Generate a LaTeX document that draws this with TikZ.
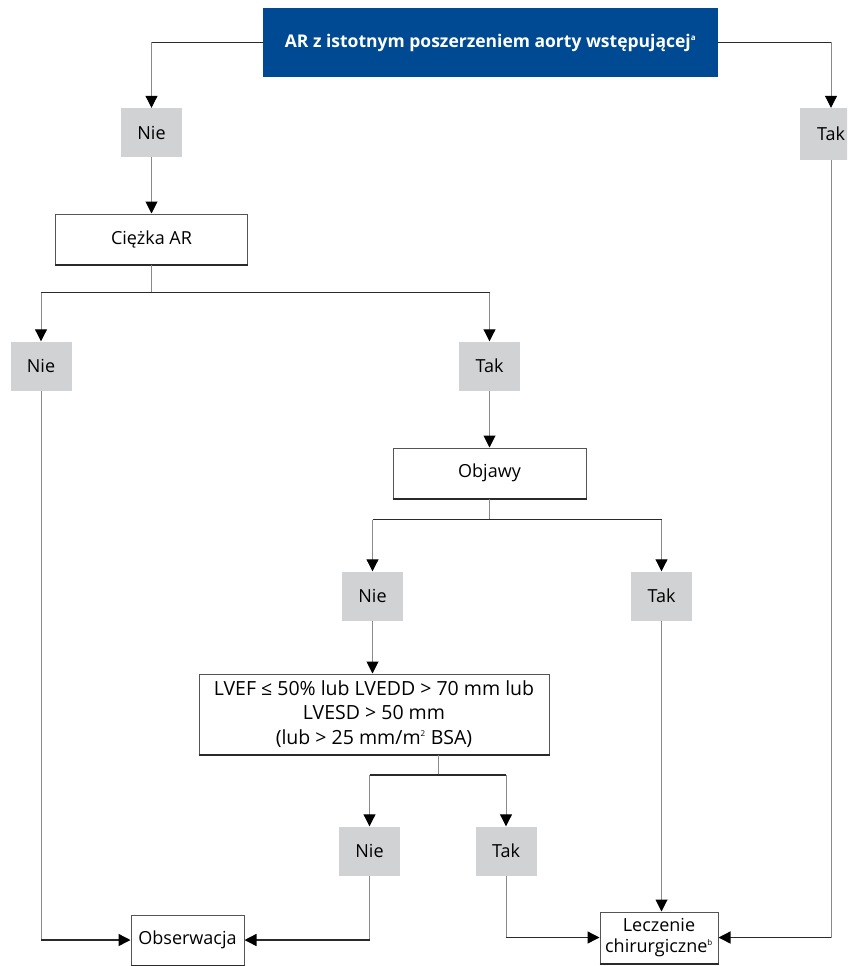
\documentclass[tikz,border=0pt]{standalone}
\usepackage{fontspec}
\setmainfont{Open Sans}
\usetikzlibrary{arrows.meta,calc}
\definecolor{topblue}{HTML}{004A93}
\definecolor{boxgray}{HTML}{D1D2D4}
\definecolor{vlinecol}{HTML}{8A8A8A}
\definecolor{hlinecol}{HTML}{2A2A2A}
\newcommand{\supmark}[1]{\textsuperscript{\fontsize{8}{8}\selectfont #1}}
\tikzset{
  tri/.tip={Triangle[width=12pt,length=12pt]},
  vl/.style={draw=vlinecol,line width=1pt},
  hl/.style={draw=hlinecol,line width=1.4pt},
  arr/.style={vl,-{tri[fill=black,color=black]}},
  harr/.style={hl,-{tri[fill=black,color=black]}},
  graybox/.style={fill=boxgray,minimum width=61pt,minimum height=49pt,inner sep=0pt,font=\fontsize{18}{21}\selectfont},
  whitebox/.style={draw=hlinecol!80,line width=1pt,fill=white,inner sep=0pt,align=center,font=\fontsize{18}{22}\selectfont},
  topbox/.style={fill=topblue,text=white,inner sep=0pt,minimum width=455pt,minimum height=69pt,font=\fontsize{17.5}{22}\selectfont\bfseries},
}
\begin{document}
\begin{tikzpicture}[x=1pt,y=-1pt]
\useasboundingbox (0,0) rectangle (847,966);
\begin{scope}
\clip (0,0) rectangle (847,966);
% nodes
\node[topbox] (top) at (490.5,42.5) {AR z istotnym poszerzeniem aorty wstępującej\supmark{a}};
\node[graybox] (nie1) at (151.5,132.5) {Nie};
\node[graybox,minimum width=62pt,minimum height=52pt] (tak1) at (831,134) {Tak};
\node[whitebox,minimum width=192pt,minimum height=50pt] (ciezka) at (151.5,239) {Ciężka AR};
\node[graybox] (nie2) at (41,366) {Nie};
\node[graybox] (tak2) at (489.5,366) {Tak};
\node[whitebox,minimum width=193pt,minimum height=50pt] (objawy) at (489.5,473) {Objawy};
\node[graybox] (nie3) at (372.5,596) {Nie};
\node[graybox] (tak3) at (661.5,596) {Tak};
\node[whitebox,minimum width=350pt,minimum height=80pt,font=\fontsize{19.5}{24.5}\selectfont] (lvef) at (374,714) {LVEF ≤ 50\% lub LVEDD > 70 mm lub\\LVESD > 50 mm\\(lub > 25 mm/m\supmark{2} BSA)};
\node[graybox] (nie4) at (369.5,851) {Nie};
\node[graybox] (tak4) at (506,851) {Tak};
\node[whitebox,minimum width=113pt,minimum height=50pt] (obs) at (187.5,940) {Obserwacja};
\node[whitebox,minimum width=118pt,minimum height=51pt,font=\fontsize{18}{20.5}\selectfont] (lecz) at (659,937.5) {Leczenie\\chirurgiczne\supmark{b}};
% thicker bottom edges
\foreach \n in {ciezka,objawy,lvef,obs,lecz}{
  \draw[hlinecol,line width=2pt] (\n.south west) -- (\n.south east);
}
% top branches
\coordinate (tl) at (top.west -| nie1.north);
\coordinate (tr) at (top.east -| tak1.north);
\draw[hl] (tl) -- (top.west);
\draw[hl] (top.east) -- (tr);
\draw[arr] (tl) -- (nie1.north);
\draw[arr] (tr) -- (tak1.north);
\draw[arr] (nie1.south) -- (ciezka.north -| nie1.south);
% Ciezka branches
\coordinate (b1) at ($(ciezka.south)+(0,28)$);
\draw[vl] (ciezka.south) -- (b1);
\draw[hl] (b1 -| nie2.north) -- (b1 -| tak2.north);
\draw[arr] (b1 -| nie2.north) -- (nie2.north);
\draw[arr] (b1 -| tak2.north) -- (tak2.north);
\draw[arr] (tak2.south) -- (objawy.north -| tak2.south);
% Objawy branches
\coordinate (b2) at ($(objawy.south)+(0,21)$);
\draw[vl] (objawy.south) -- (b2);
\draw[hl] (b2 -| nie3.north) -- (b2 -| tak3.north);
\draw[arr] (b2 -| nie3.north) -- (nie3.north);
\draw[arr] (b2 -| tak3.north) -- (tak3.north);
\draw[arr] (nie3.south) -- (lvef.north -| nie3.south);
% LVEF branches
\coordinate (b3) at (438,775);
\draw[vl] (lvef.south -| b3) -- (b3);
\draw[hl] (b3 -| nie4.north) -- (b3 -| tak4.north);
\draw[arr] (b3 -| nie4.north) -- (nie4.north);
\draw[arr] (b3 -| tak4.north) -- (tak4.north);
% to outcomes
\draw[vl] (nie2.south) -- (nie2.south |- obs.west);
\draw[harr] (nie2.south |- obs.west) -- (obs.west);
\draw[vl] (nie4.south) -- (nie4.south |- obs.east);
\draw[harr] (nie4.south |- obs.east) -- (obs.east);
\draw[vl] (tak4.south) -- (tak4.south |- lecz.west);
\draw[harr] (tak4.south |- lecz.west) -- (lecz.west);
\draw[arr] (tak3.south) -- (lecz.north -| tak3.south);
\draw[vl] (tak1.south -| tr) -- (tr |- lecz.east);
\draw[harr] (tr |- lecz.east) -- (lecz.east);
\end{scope}
\end{tikzpicture}
\end{document}
